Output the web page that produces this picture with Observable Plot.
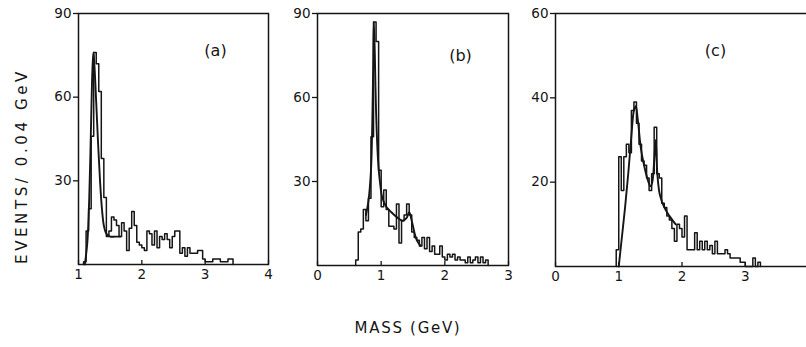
<!DOCTYPE html>
<html><head><meta charset="utf-8">
<script src="https://cdn.jsdelivr.net/npm/d3@7"></script>
<script src="https://cdn.jsdelivr.net/npm/@observablehq/plot@0.6"></script>
<style>
html,body{margin:0;padding:0;background:#fff;}
#fig{position:relative;width:806px;height:347px;overflow:hidden;font-family:"DejaVu Sans",sans-serif;color:#151515;background:#fff;}
#fig svg{position:absolute;}
#ylab{position:absolute;left:22px;top:166px;transform:translate(-50%,-50%) rotate(-90deg);font-size:15px;letter-spacing:3.6px;white-space:nowrap;}
#xlab{position:absolute;left:408px;top:328px;transform:translate(-50%,-50%);font-size:15px;letter-spacing:1.7px;white-space:nowrap;}
</style></head><body>
<div id="fig"><div id="ylab">EVENTS/ 0.04 GeV</div><div id="xlab">MASS (GeV)</div></div>
<script>
// ---- data (events per 0.04 GeV bin) ----
const binWidth = 0.04;

// panel (a)
const startA = 1.08;
const countsA = [1,12,20,46,76,72,62,38,24,10,12,17,16,14,10,15,12,5,13,19,14,8,7,6,5,12,11,7,12,6,10,9,11,9,6,10,12,12,4,6,3,6,4,4,4,5,5,2,1,1,1,2,2,2,1,1,1,2,2];
const fitAm = [1.10,1.14,1.17,1.20,1.22,1.235,1.25,1.28,1.31,1.34,1.37,1.40,1.44,1.50,1.58,1.66];
const fitAv = [0,8,24,52,70,76,72,58,43,30,20,14,11,10,10,10];

// panel (b)
const startB = 0.60;
const countsB = [2,12,13,20,16,24,46,87,80,34,21,27,20,14,14,13,22,8,16,18,22,18,12,10,9,7,10,6,10,5,7,4,4,7,3,2,4,3,4,2,3,2,2,1,3,1,2,3,1,3,1,2];
const fitBm = [0.76,0.80,0.84,0.86,0.875,0.885,0.90,0.92,0.95,0.98,1.02,1.08,1.16,1.26,1.34,1.40,1.44,1.48,1.52,1.56,1.62];
const fitBv = [18,23,34,50,72,87,76,55,38,30,24,21,19,17,16,17,19,16,12,9,7];

// panel (c)
const startC = 0.96;
const countsC = [4,26,18,26,29,27,37,39,34,29,25,24,21,18,22,33,22,21,15,14,12,11,9,6,10,9,7,12,4,4,4,8,4,6,4,6,4,5,3,6,3,3,3,4,3,2,2,2,2,1,1,0,0,0,2,0,1];
const fitCm = [1.00,1.05,1.10,1.15,1.20,1.24,1.27,1.30,1.35,1.40,1.45,1.50,1.53,1.56,1.585,1.61,1.65,1.72,1.80,1.90];
const fitCv = [0,7,14,22,31,37,38,35,28,24,21,19,20,25,30,22,17,14,12,10];

// axis ticks
const xTicksA = [1,2,3,4], yTicksA = [30,60,90];
const xTicksB = [0,1,2,3], yTicksB = [30,60,90];
const xTicksC = [0,1,2,3], yTicksC = [20,40,60];

const ink = "#151515";

function panel(o) {
  const ml = 34, mr = 4, mt = 4, mb = 26;
  const steps = [{x: o.start, y: 0}]
    .concat(o.counts.map((c, i) => ({x: o.start + i * binWidth, y: c})))
    .concat([{x: o.start + o.counts.length * binWidth, y: 0}]);
  const fit = o.fm.map((m, i) => ({x: m, y: o.fv[i]}));
  const svg = Plot.plot({
    width: ml + o.w + mr, height: mt + o.h + mb,
    marginLeft: ml, marginRight: mr, marginTop: mt, marginBottom: mb,
    x: {domain: o.xd},
    y: {domain: o.yd},
    style: {fontFamily: "DejaVu Sans, sans-serif", fontSize: "13.5px", color: ink, background: "transparent", overflow: "visible"},
    marks: [
      Plot.frame({stroke: ink, strokeWidth: 1.5}),
      Plot.axisX({ticks: o.xt, tickSize: -4, tickPadding: 9, label: null, tickFormat: d => String(d), stroke: ink, strokeWidth: 1.3}),
      Plot.axisY({ticks: o.yt, tickSize: 5, tickPadding: 2, label: null, stroke: ink, strokeWidth: 1.3}),
      Plot.line(steps, {x: "x", y: "y", curve: "step-after", stroke: ink, strokeWidth: 1.5}),
      Plot.line(fit, {x: "x", y: "y", curve: "catmull-rom", stroke: ink, strokeWidth: 1.9}),
      Plot.text([o.label], {text: d => d, frameAnchor: "top-left", dx: o.ldx, dy: o.ldy, textAnchor: "middle", lineAnchor: "middle", fontSize: 16, fill: ink})
    ]
  });
  svg.style.left = (o.left - ml) + "px";
  svg.style.top = (o.top - mt) + "px";
  document.getElementById("fig").appendChild(svg);
}

panel({start: startA, counts: countsA, fm: fitAm, fv: fitAv, xd: [1,4], yd: [0,90], xt: xTicksA, yt: yTicksA,
       left: 78, top: 13, w: 190, h: 251, label: "(a)", ldx: 137, ldy: 37});
panel({start: startB, counts: countsB, fm: fitBm, fv: fitBv, xd: [0,3], yd: [0,90], xt: xTicksB, yt: yTicksB,
       left: 317, top: 13, w: 191, h: 252, label: "(b)", ldx: 143, ldy: 42});
panel({start: startC, counts: countsC, fm: fitCm, fv: fitCv, xd: [0,4], yd: [0,60], xt: xTicksC, yt: yTicksC,
       left: 555, top: 13, w: 253, h: 253, label: "(c)", ldx: 160, ldy: 37});
</script>
</body></html>
